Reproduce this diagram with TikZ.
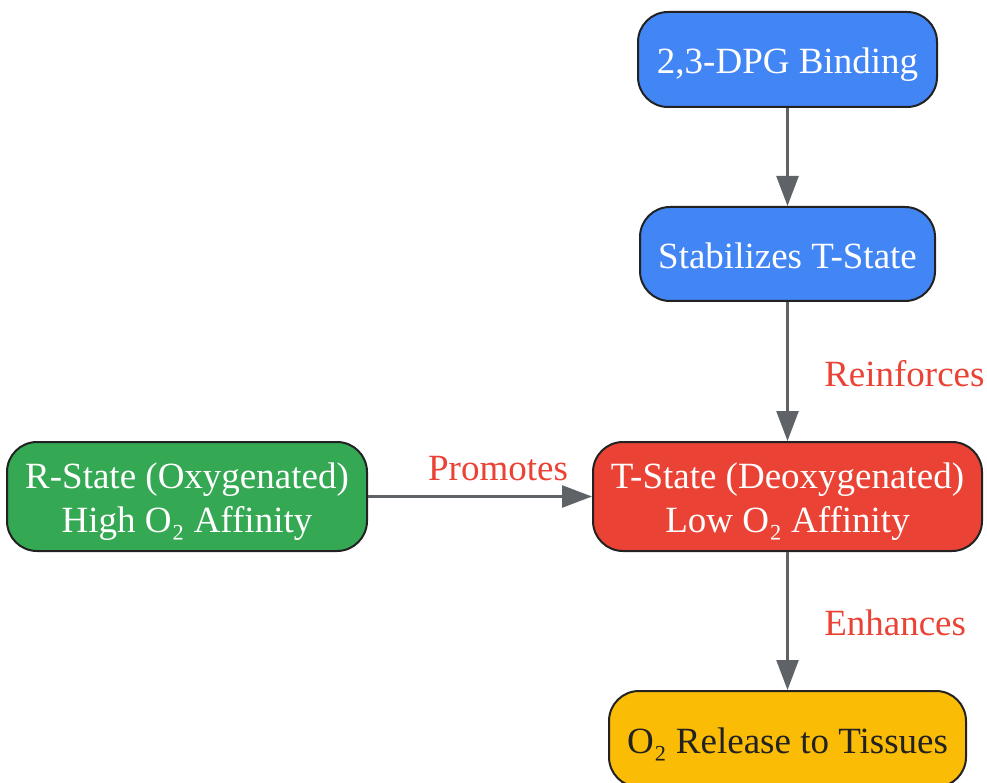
\documentclass[tikz,border=0pt]{standalone}
\usepackage{fontspec}
\setmainfont{Liberation Serif}
\usetikzlibrary{arrows.meta}
\definecolor{gblue}{HTML}{4285F4}
\definecolor{ggreen}{HTML}{34A853}
\definecolor{gred}{HTML}{EA4335}
\definecolor{gyellow}{HTML}{FBBC05}
\definecolor{edgegray}{HTML}{5F6368}
\definecolor{border}{HTML}{222222}
\newcommand{\boxtxt}[1]{\raisebox{-5.5pt}[\height][\depth]{\begin{tabular}{@{}c@{}}#1\end{tabular}}}
\tikzset{
  box/.style={draw=border, line width=2pt, rounded corners=30pt, inner sep=0pt,
    font=\fontsize{37}{44}\selectfont, text=white},
  conn/.style={draw=edgegray, line width=2.5pt, -{Triangle[length=30pt,width=22pt]}},
  elabel/.style={text=gred, font=\fontsize{37}{44}\selectfont, inner sep=0pt}
}
\begin{document}
\begin{tikzpicture}[x=1pt,y=-1pt]
\path[use as bounding box] (0,0) rectangle (987,783);
\node[box, fill=gblue, minimum width=299pt, minimum height=95pt] (dpg) at (787.5,59.5) {\boxtxt{2,3-DPG Binding}};
\node[box, fill=gblue, minimum width=295pt, minimum height=94pt] (stab) at (787.5,254) {\boxtxt{Stabilizes T-State}};
\node[box, fill=gred, minimum width=389pt, minimum height=109pt] (tstate) at (787.5,496.5) {\boxtxt{T-State (Deoxygenated)\\Low O₂ Affinity}};
\node[box, fill=ggreen, minimum width=360pt, minimum height=109pt] (rstate) at (187,496.5) {\boxtxt{R-State (Oxygenated)\\High O₂ Affinity}};
\node[box, fill=gyellow, text=border, minimum width=357pt, minimum height=96pt] (rel) at (787.5,739) {\boxtxt{O₂ Release to Tissues}};
\draw[conn] (dpg) -- (stab);
\draw[conn] (stab) -- node[elabel, anchor=west, xshift=35.5pt, yshift=-2.5pt] (lreinf) {Reinforces} (tstate);
\draw[conn] (rstate) -- node[elabel, above=14pt, xshift=18pt] (lprom) {Promotes} (tstate);
\draw[conn] (tstate) -- node[elabel, anchor=west, xshift=35.5pt, yshift=-2pt] (lenh) {Enhances} (rel);
\end{tikzpicture}
\end{document}
